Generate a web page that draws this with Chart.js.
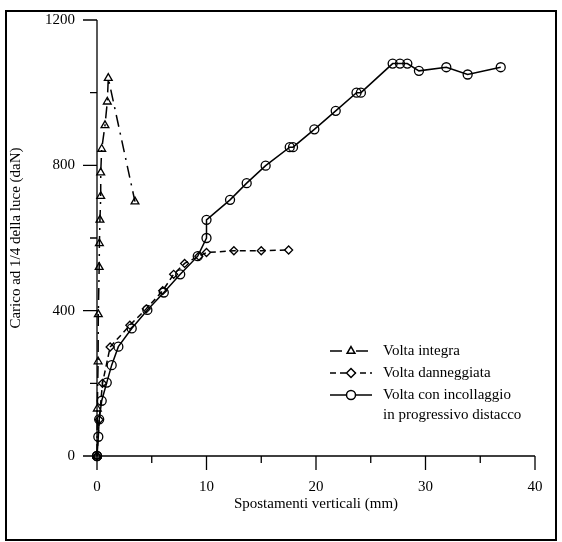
<!DOCTYPE html>
<html lang="it">
<head>
    <meta charset="UTF-8">
    <title>Carico - spostamenti</title>
    <script src="https://cdn.jsdelivr.net/npm/chart.js"></script>
    <style>
        * { margin: 0; padding: 0; box-sizing: border-box; }
        body { width: 562px; height: 542px; background: #fff; overflow: hidden; }
        #wrap { position: relative; width: 562px; height: 542px; }
        #chart { display: block; }
    </style>
</head>
<body>
    <div id="wrap"><canvas id="chart" width="562" height="542"></canvas></div>

    <script>
        // Volta integra (triangoli)
        const integraX = [0, 0.03, 0.1, 0.12, 0.2, 0.22, 0.27, 0.34, 0.34, 0.43, 0.73, 0.94, 1.03, 3.47];
        const integraY = [0, 130, 260, 390, 520, 585, 650, 715, 780, 845, 910, 975, 1040, 700];

        // Volta danneggiata (rombi)
        const dannX = [0, 0.2, 0.5, 1.2, 3, 4.5, 6, 7, 8, 9.3, 10, 12.5, 15, 17.5];
        const dannY = [0, 100, 200, 300, 360, 405, 455, 500, 530, 550, 560, 565, 565, 567];

        // Volta con incollaggio in progressivo distacco (cerchi)
        const incX = [0, 0, 0.12, 0.2, 0.43, 0.89, 1.34, 1.95, 3.17, 4.6, 6.1, 7.6, 9.2, 10, 10,
                      12.15, 13.67, 15.4, 17.6, 17.9, 19.85, 21.8, 23.7, 24.1, 27, 27.67, 28.34, 29.4, 31.9, 33.85, 36.87];
        const incY = [0, 0, 53, 101, 152, 202, 250, 301, 351, 402, 450, 500, 550, 600, 650,
                      705, 751, 799, 850, 850, 899, 950, 1000, 1000, 1080, 1080, 1080, 1060, 1070, 1050, 1070];

        const xMajor = [0, 10, 20, 30, 40];
        const xMinor = [5, 15, 25, 35];
        const yMajor = [0, 400, 800, 1200];
        const yMinor = [200, 600, 1000];

        const FONT = "'Liberation Serif', 'Times New Roman', serif";
        const pts = (xs, ys) => xs.map((x, i) => ({ x: x, y: ys[i] }));

        const legendItems = [
            { lines: ['Volta integra'], dash: [12, 6, 2, 6], style: 'triangle', r: 4.5 },
            { lines: ['Volta danneggiata'], dash: [6, 4], style: 'rectRot', r: 4.5 },
            { lines: ['Volta con incollaggio', 'in progressivo distacco'], dash: [], style: 'circle', r: 4.5 }
        ];

        // ticks, axes, frame and legend
        const decor = {
            id: 'decor',
            afterDraw(chart) {
                const ctx = chart.ctx;
                const xs = chart.scales.x, ys = chart.scales.y;
                const x0 = xs.getPixelForValue(0), y0 = ys.getPixelForValue(0);
                ctx.save();
                ctx.strokeStyle = '#000';
                ctx.lineWidth = 1.3;
                ctx.beginPath();
                ctx.moveTo(x0, ys.getPixelForValue(1200));
                ctx.lineTo(x0, y0);
                ctx.lineTo(xs.getPixelForValue(40), y0);
                xMajor.forEach(v => { const p = xs.getPixelForValue(v); ctx.moveTo(p, y0); ctx.lineTo(p, y0 + 14); });
                xMinor.forEach(v => { const p = xs.getPixelForValue(v); ctx.moveTo(p, y0); ctx.lineTo(p, y0 + 7); });
                yMajor.forEach(v => { const p = ys.getPixelForValue(v); ctx.moveTo(x0, p); ctx.lineTo(x0 - 14, p); });
                yMinor.forEach(v => { const p = ys.getPixelForValue(v); ctx.moveTo(x0, p); ctx.lineTo(x0 - 7, p); });
                ctx.stroke();

                // frame
                ctx.lineWidth = 2;
                ctx.strokeRect(6, 11, 550, 529);

                // legend
                let y = 351;
                ctx.font = '15px ' + FONT;
                ctx.fillStyle = '#000';
                ctx.textBaseline = 'middle';
                legendItems.forEach(it => {
                    ctx.lineWidth = 1.5;
                    ctx.setLineDash(it.dash);
                    ctx.beginPath();
                    ctx.moveTo(330, y);
                    ctx.lineTo(372, y);
                    ctx.stroke();
                    ctx.setLineDash([]);
                    ctx.fillStyle = '#fff';
                    Chart.helpers.drawPoint(ctx, { pointStyle: it.style, radius: it.r, rotation: 0, borderWidth: 1.5 }, 351, y);
                    ctx.fillStyle = '#000';
                    it.lines.forEach((t, k) => ctx.fillText(t, 383, y + k * 20));
                    y += 22;
                });
                ctx.restore();
            }
        };

        const common = {
            borderColor: '#000',
            pointBorderColor: '#000',
            pointBackgroundColor: 'rgba(0,0,0,0)',
            pointBorderWidth: 1.3,
            borderWidth: 1.5,
            showLine: true,
            tension: 0,
            clip: false
        };

        // hidden tick marks only used to push labels away from the axis
        const hiddenGrid = { display: true, drawOnChartArea: false, drawTicks: true, tickLength: 20, tickColor: 'rgba(0,0,0,0)' };

        new Chart(document.getElementById('chart'), {
            type: 'scatter',
            data: {
                datasets: [
                    Object.assign({ label: 'Volta integra', data: pts(integraX, integraY), borderDash: [12, 6, 2, 6], pointStyle: 'triangle', pointRadius: 4.5 }, common),
                    Object.assign({ label: 'Volta danneggiata', data: pts(dannX, dannY), borderDash: [6, 4], pointStyle: 'rectRot', pointRadius: 4 }, common),
                    Object.assign({ label: 'Volta con incollaggio in progressivo distacco', data: pts(incX, incY), pointStyle: 'circle', pointRadius: 4.5 }, common)
                ]
            },
            options: {
                responsive: false,
                animation: false,
                events: [],
                layout: { padding: { left: 0, top: 20, right: 27, bottom: 0 } },
                plugins: { legend: { display: false }, tooltip: { enabled: false } },
                scales: {
                    x: {
                        type: 'linear', min: 0, max: 40,
                        afterFit: s => { s.height = 86; },
                        grid: hiddenGrid,
                        border: { display: false },
                        afterBuildTicks: s => { s.ticks = xMajor.map(v => ({ value: v })); },
                        ticks: { color: '#000', padding: 2, maxRotation: 0, callback: v => String(v), font: { family: FONT, size: 15 } },
                        title: { display: true, text: 'Spostamenti verticali (mm)', color: '#000', padding: { top: 0, bottom: 29 }, font: { family: FONT, size: 15 } }
                    },
                    y: {
                        type: 'linear', min: 0, max: 1200,
                        afterFit: s => { s.width = 97; },
                        grid: hiddenGrid,
                        border: { display: false },
                        afterBuildTicks: s => { s.ticks = yMajor.map(v => ({ value: v })); },
                        ticks: { color: '#000', padding: 2, callback: v => String(v), font: { family: FONT, size: 15 } },
                        title: { display: true, text: 'Carico ad 1/4 della luce (daN)', color: '#000', padding: { top: 7, bottom: 0 }, font: { family: FONT, size: 15 } }
                    }
                }
            },
            plugins: [decor]
        });
    </script>
</body>
</html>
